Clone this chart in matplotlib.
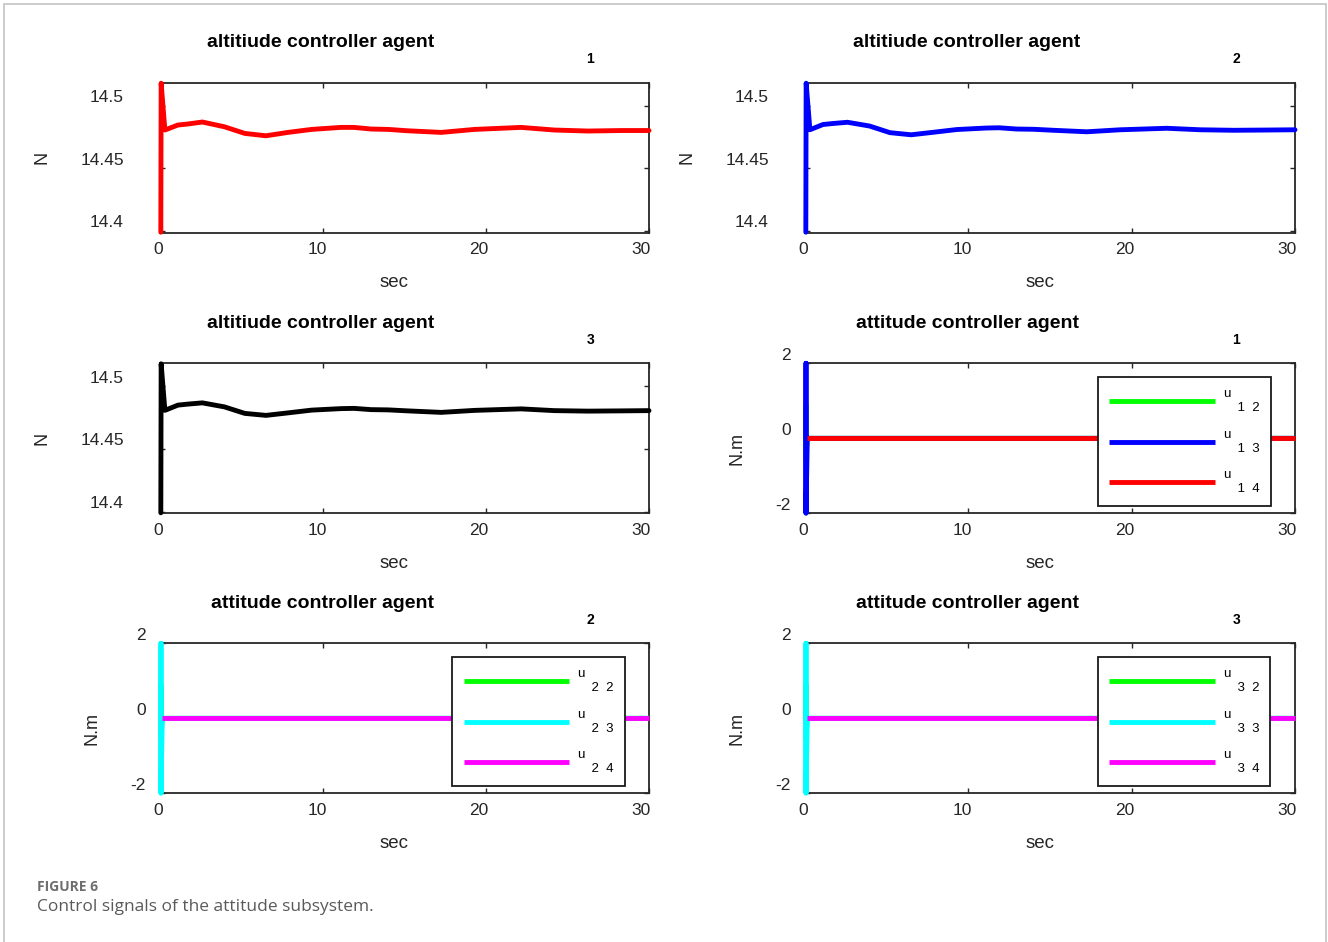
import matplotlib

matplotlib.use("Agg")

import matplotlib.pyplot as plt
from matplotlib.patches import Rectangle
from matplotlib.transforms import ScaledTranslation

plt.rcParams["font.family"] = ["Liberation Sans", "DejaVu Sans"]
plt.rcParams["axes.unicode_minus"] = False

# ---- data ------------------------------------------------------------------
t_alt = [0.05, 0.07, 0.3, 1.1, 1.7, 2.6, 3.95, 5.2, 6.5, 7.85, 9.3, 11.1, 11.9,
         12.95, 14.0, 15.2, 17.25, 19.3, 22.15, 24.2, 26.25, 28.3, 30.0]
f_agent1 = [14.399, 14.518, 14.4806, 14.4846, 14.4854, 14.4870, 14.4832, 14.4779,
            14.4760, 14.4787, 14.4811, 14.4827, 14.4827, 14.4814, 14.4811, 14.4800,
            14.4787, 14.4811, 14.4827, 14.4806, 14.4798, 14.4802, 14.4802]
f_agent2 = [14.399, 14.518, 14.4808, 14.4850, 14.4858, 14.4868, 14.4838, 14.4785,
            14.4768, 14.4788, 14.4810, 14.4822, 14.4824, 14.4814, 14.4812, 14.4804,
            14.4792, 14.4808, 14.4820, 14.4808, 14.4804, 14.4806, 14.4808]
f_agent3 = [14.399, 14.518, 14.4808, 14.4850, 14.4858, 14.4868, 14.4836, 14.4784,
            14.4768, 14.4788, 14.4810, 14.4822, 14.4824, 14.4814, 14.4812, 14.4804,
            14.4792, 14.4808, 14.4820, 14.4806, 14.4802, 14.4804, 14.4806]

t_att = [0.06, 0.06, 0.06, 0.14, 30.0]
u_spike = [-2.0, 2.0, -2.0, 0.0, 0.0]    # fast transient of u_x3
u_small = [0.0, 0.9, -0.5, 0.0, 0.0]     # u_x2, mostly hidden
u_const = [0.0, 0.0, 0.0, 0.0, 0.0]      # u_x4

alt_ticks = [14.4, 14.45, 14.5]
att_ticks = [-2, 0, 2]
time_ticks = [0, 10, 20, 30]
xlabel_shift = [-2, -6, -7, -8]  # px, MATLAB export drifts the tick labels

panels = [
    # (row, col, kind, title, index)
    (0, 0, "alt", "altitiude controller agent", "1"),
    (0, 1, "alt", "altitiude controller agent", "2"),
    (1, 0, "alt", "altitiude controller agent", "3"),
    (1, 1, "att", "attitude controller agent", "1"),
    (2, 0, "att", "attitude controller agent", "2"),
    (2, 1, "att", "attitude controller agent", "3"),
]
alt_series = {(0, 0): (f_agent1, "#ff0000"), (0, 1): (f_agent2, "#0000ff"),
              (1, 0): (f_agent3, "#000000")}
att_colors = {(1, 1): ["#00ff00", "#0000ff", "#ff0000"],
              (2, 0): ["#00ff00", "#00ffff", "#ff00ff"],
              (2, 1): ["#00ff00", "#00ffff", "#ff00ff"]}
att_agent = {(1, 1): "1", (2, 0): "2", (2, 1): "3"}

W, H = 1328, 942
fig = plt.figure(figsize=(W / 100, H / 100), dpi=100)

col_x = [160, 805]
col_w = [489, 490]
row_top = [82.7, 363.3, 643.3]
ax_h = 150

dark = "#262626"
for row, col, kind, title, idx in panels:
    x0, top = col_x[col], row_top[row]
    ax = fig.add_axes([x0 / W, 1 - (top + ax_h) / H, col_w[col] / W, ax_h / H])
    if kind == "alt":
        vals, c = alt_series[(row, col)]
        ax.plot(t_alt, vals, color=c, lw=3.5, solid_capstyle="round",
                solid_joinstyle="round", clip_on=False, zorder=3)
        ax.set_ylim(14.3986, 14.5184)
        ax.set_yticks(alt_ticks)
        ax.set_yticklabels(["14.4", "14.45", "14.5"])
        ax.set_ylabel("N", fontsize=13)
        ypad, ylab_x, ylab_y = 26, -0.241, 0.5
    else:
        cs = att_colors[(row, col)]
        a = att_agent[(row, col)]
        kw = dict(lw=3.5, solid_capstyle="butt", clip_on=False, zorder=3)
        ax.plot(t_att, u_small, color=cs[0], label=f"u\n    {a}  2", **kw)
        ax.plot(t_att, u_spike, color=cs[1], label=f"u\n    {a}  3", **kw)
        ax.plot(t_att[3:], u_const[3:], color=cs[2], label=f"u\n    {a}  4", **kw)
        ax.set_ylim(-2, 2)
        ax.set_yticks(att_ticks)
        ax.set_ylabel("N.m", fontsize=13)
        ypad, ylab_x, ylab_y = 10, -0.139, 0.43
        leg = ax.legend(loc="upper left", bbox_to_anchor=(0.598, 0.909),
                        borderaxespad=0, fontsize=9.5, handlelength=8.0,
                        handletextpad=0.6, labelspacing=1.12, borderpad=0.85,
                        fancybox=False, framealpha=1, edgecolor="#1a1a1a")
        leg.get_frame().set_linewidth(1.3)
        leg.set_zorder(5)
    ax.set_xlim(0, 30)
    ax.set_xticks(time_ticks)
    ax.tick_params(direction="in", top=True, right=True, length=3.6, width=1,
                   labelsize=12.5, colors=dark, labelcolor=dark)
    ax.tick_params(axis="y", pad=ypad)
    ax.tick_params(axis="x", pad=7)
    for sp in ax.spines.values():
        sp.set_color(dark)
        sp.set_linewidth(1.3)
    # MATLAB export shifts the tick labels a bit
    for lab in ax.get_yticklabels():
        lab.set_transform(lab.get_transform() + ScaledTranslation(0, 7 / 72, fig.dpi_scale_trans))
    for lab, dx in zip(ax.get_xticklabels(), xlabel_shift):
        lab.set_transform(lab.get_transform() + ScaledTranslation(dx / 100, 0, fig.dpi_scale_trans))
    ax.set_xlabel("sec", fontsize=13.5, color=dark)
    ax.xaxis.label.set_va("center")
    ax.xaxis.set_label_coords(0.479, -0.333)
    ax.yaxis.label.set_color(dark)
    ax.yaxis.label.set_va("center")
    ax.yaxis.set_label_coords(ylab_x, ylab_y)
    tx = 0.329 if kind == "alt" else 0.332
    ax.text(tx, 1.265, title, transform=ax.transAxes, ha="center", va="center",
            fontsize=14, fontweight="bold", color="black")
    ax.text(0.88, 1.158, idx, transform=ax.transAxes, ha="center", va="center",
            fontsize=10, fontweight="bold", color="black")

fig.text(37 / W, 1 - 887 / H, "FIGURE 6", ha="left", va="center", fontsize=10,
         fontweight="bold", color="#6e6e6e", family=["Open Sans", "DejaVu Sans"])
fig.text(37 / W, 1 - 907 / H, "Control signals of the attitude subsystem.", ha="left",
         va="center", fontsize=12.5, color="#5a5a5a", family=["Open Sans", "DejaVu Sans"])

fig.add_artist(Rectangle((4 / W, -0.02), 1322 / W, 1.02 - 4 / H, transform=fig.transFigure,
                         fill=False, edgecolor="#c4c4c4", linewidth=1.2))

fig.savefig("out.png", dpi=100, facecolor="white")
